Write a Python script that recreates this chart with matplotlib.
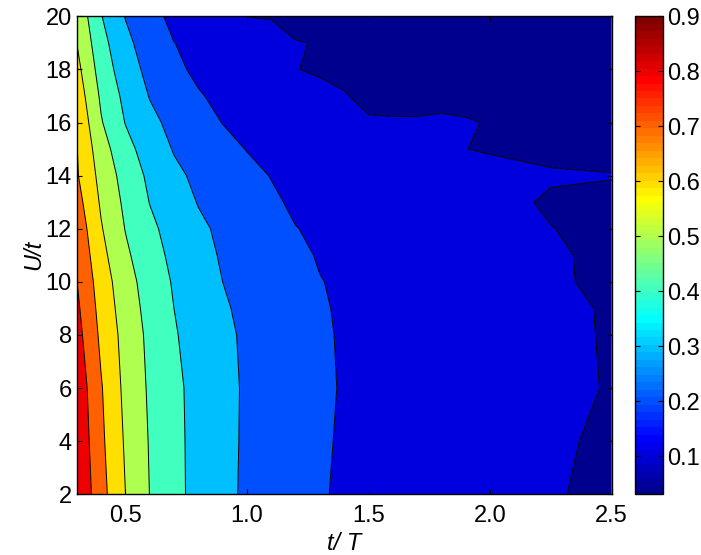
import numpy as np
import matplotlib
matplotlib.use("Agg")
import matplotlib.pyplot as plt
from matplotlib import colors as mcolors
from matplotlib.cm import ScalarMappable

plt.rcParams['font.family'] = ['Liberation Sans', 'DejaVu Sans']

# grid
t_over_T = [0.3, 0.4, 0.5, 0.6, 0.7, 0.8, 0.9, 1.0, 1.1, 1.2, 1.3, 1.4,
            1.5, 1.6, 1.7, 1.8, 1.9, 2.0, 2.25, 2.5]
U_over_t = [2, 4, 6, 8, 9, 10, 11, 12, 13, 14, 15, 16, 17, 18, 19, 20]

# one row per U/t value (bottom to top), one value per t/T column
row_2 = [0.900, 0.735, 0.601, 0.499, 0.427, 0.370, 0.323, 0.286, 0.260, 0.233, 0.205, 0.192, 0.182, 0.172, 0.162, 0.152, 0.142, 0.132, 0.104, 0.089]
row_4 = [0.885, 0.720, 0.589, 0.494, 0.425, 0.370, 0.324, 0.288, 0.263, 0.237, 0.212, 0.190, 0.182, 0.174, 0.165, 0.155, 0.145, 0.136, 0.107, 0.092]
row_6 = [0.870, 0.708, 0.576, 0.487, 0.421, 0.370, 0.325, 0.289, 0.265, 0.240, 0.216, 0.193, 0.185, 0.177, 0.168, 0.159, 0.150, 0.142, 0.112, 0.097]
row_8 = [0.837, 0.681, 0.565, 0.478, 0.408, 0.362, 0.319, 0.286, 0.262, 0.238, 0.214, 0.190, 0.183, 0.175, 0.166, 0.158, 0.149, 0.140, 0.111, 0.096]
row_9 = [0.820, 0.667, 0.552, 0.468, 0.400, 0.354, 0.310, 0.281, 0.257, 0.232, 0.208, 0.190, 0.182, 0.173, 0.164, 0.155, 0.146, 0.137, 0.1105, 0.0955]
row_10 = [0.802, 0.653, 0.539, 0.457, 0.391, 0.345, 0.300, 0.275, 0.251, 0.226, 0.202, 0.191, 0.182, 0.172, 0.162, 0.153, 0.143, 0.134, 0.106, 0.091]
row_11 = [0.786, 0.630, 0.518, 0.438, 0.378, 0.331, 0.291, 0.266, 0.238, 0.214, 0.195, 0.184, 0.175, 0.166, 0.156, 0.147, 0.138, 0.129, 0.1055, 0.0905]
row_12 = [0.767, 0.608, 0.497, 0.420, 0.365, 0.317, 0.283, 0.257, 0.226, 0.202, 0.188, 0.178, 0.169, 0.160, 0.151, 0.142, 0.133, 0.124, 0.101, 0.088]
row_13 = [0.738, 0.588, 0.480, 0.398, 0.345, 0.296, 0.268, 0.241, 0.214, 0.186, 0.176, 0.166, 0.157, 0.147, 0.138, 0.129, 0.122, 0.115, 0.094, 0.092]
row_14 = [0.710, 0.570, 0.461, 0.381, 0.320, 0.281, 0.253, 0.225, 0.197, 0.184, 0.172, 0.161, 0.151, 0.143, 0.136, 0.130, 0.125, 0.120, 0.1047, 0.1015]
row_15 = [0.704, 0.544, 0.432, 0.355, 0.294, 0.262, 0.229, 0.197, 0.178, 0.163, 0.150, 0.138, 0.128, 0.120, 0.112, 0.106, 0.1005, 0.095, 0.089, 0.088]
row_16 = [0.690, 0.508, 0.397, 0.324, 0.274, 0.236, 0.198, 0.178, 0.160, 0.143, 0.128, 0.117, 0.1077, 0.1066, 0.1075, 0.1151, 0.1078, 0.0944, 0.085, 0.078]
row_17 = [0.660, 0.485, 0.375, 0.296, 0.252, 0.209, 0.175, 0.162, 0.149, 0.136, 0.123, 0.1045, 0.082, 0.078, 0.075, 0.072, 0.069, 0.066, 0.058, 0.050]
row_18 = [0.630, 0.459, 0.346, 0.274, 0.224, 0.178, 0.163, 0.145, 0.124, 0.102, 0.090, 0.082, 0.076, 0.071, 0.066, 0.062, 0.058, 0.055, 0.050, 0.044]
row_19 = [0.600, 0.435, 0.322, 0.256, 0.201, 0.180, 0.160, 0.143, 0.127, 0.103, 0.097, 0.090, 0.083, 0.077, 0.071, 0.066, 0.061, 0.057, 0.047, 0.038]
row_20 = [0.577, 0.405, 0.297, 0.234, 0.175, 0.152, 0.129, 0.099, 0.096, 0.073, 0.070, 0.066, 0.062, 0.058, 0.054, 0.051, 0.048, 0.045, 0.038, 0.031]

contour_levels = [0.1, 0.2, 0.3, 0.4, 0.5, 0.6, 0.7, 0.8]
cbar_ticks = [0.1, 0.2, 0.3, 0.4, 0.5, 0.6, 0.7, 0.8, 0.9]

Z = np.array([row_2, row_4, row_6, row_8, row_9, row_10, row_11, row_12,
              row_13, row_14, row_15, row_16, row_17, row_18, row_19, row_20])
X, Y = np.meshgrid(t_over_T, U_over_t)


def matlab_jet(m=64):
    # same construction as matlab's jet(m)
    n = int(np.ceil(m / 4))
    u = np.concatenate([np.arange(1, n + 1) / n, np.ones(n - 1), np.arange(n, 0, -1) / n])
    g = int(np.ceil(n / 2)) - (1 if m % 4 == 1 else 0) + np.arange(1, len(u) + 1)
    r = g + n
    b = g - n
    J = np.zeros((m, 3))
    rk = r <= m
    J[r[rk] - 1, 0] = u[:rk.sum()]
    gk = g <= m
    J[g[gk] - 1, 1] = u[:gk.sum()]
    bk = b >= 1
    J[b[bk] - 1, 2] = u[len(u) - bk.sum():]
    return mcolors.ListedColormap(J)


zmin, zmax = Z.min(), Z.max()
cmap = matlab_jet(64)
norm = mcolors.Normalize(vmin=zmin, vmax=zmax)

# matlab style: each band gets the colour of its lower level
levels = [zmin] + contour_levels + [zmax]
band_colors = [cmap(norm(l)) for l in levels[:-1]]

fig = plt.figure(figsize=(7.01, 5.55), dpi=100)
ax = fig.add_axes([0.1094, 0.1094, 0.7632, 0.8612])
cax = fig.add_axes([0.906, 0.1094, 0.0395, 0.8612])

ax.contourf(X, Y, Z, levels=levels, colors=band_colors, antialiased=True)
ax.contour(X, Y, Z, levels=contour_levels, colors='k', linewidths=0.7)

ax.set_xlim(0.3, 2.5)
ax.set_ylim(2, 20)
ax.set_xticks([0.5, 1.0, 1.5, 2.0, 2.5])
ax.set_xticklabels(['0.5', '1.0', '1.5', '2.0', '2.5'])
ax.set_yticks(range(2, 21, 2))
ax.tick_params(direction='in', top=True, right=True, length=3.5, width=0.8,
               labelsize=17)
ax.tick_params(axis='x', pad=8)
ax.tick_params(axis='y', pad=3.5)
for s in ax.spines.values():
    s.set_linewidth(1.0)

ax.set_xlabel('t/ T', fontstyle='italic', fontsize=17, labelpad=3)
ax.set_ylabel('U/t', fontstyle='italic', fontsize=17, labelpad=0)

sm = ScalarMappable(norm=norm, cmap=cmap)
cb = fig.colorbar(sm, cax=cax, ticks=cbar_ticks)
cb.ax.tick_params(direction='in', length=3.5, width=0.8, labelsize=17,
                  left=True, right=True, pad=3)
cb.outline.set_linewidth(1.0)

fig.savefig('out.png', dpi=100)
